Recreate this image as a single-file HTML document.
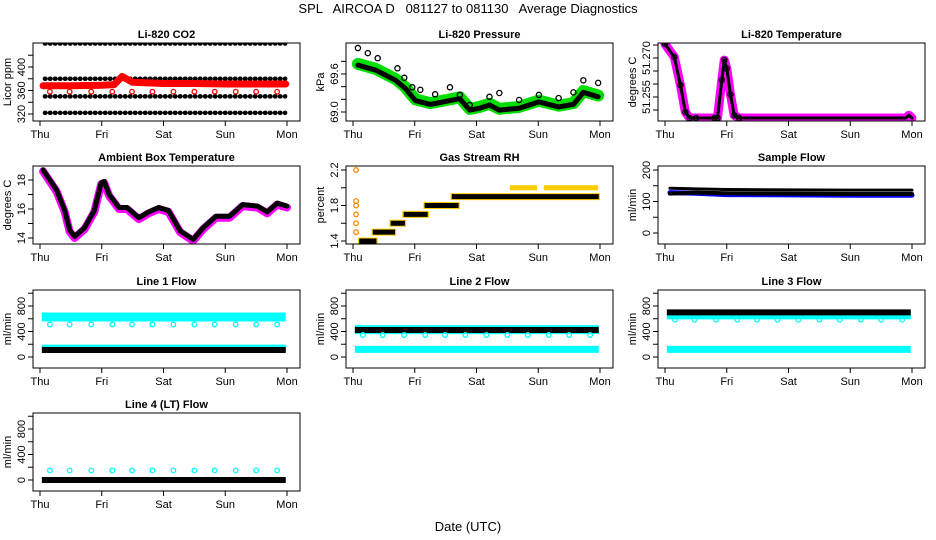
<!DOCTYPE html>
<html><head><meta charset="utf-8"><style>
html,body{margin:0;padding:0;background:#fff}
svg{display:block;font-family:"Liberation Sans",sans-serif}
</style></head><body>
<svg id="c" width="936" height="540" viewBox="0 0 936 540">
<text x="468" y="13" text-anchor="middle" font-size="13" xml:space="preserve">SPL   AIRCOA D   081127 to 081130   Average Diagnostics</text>
<text x="468" y="531" text-anchor="middle" font-size="13">Date (UTC)</text>
</svg>
<script>
// ---- data (time in days since Thu 00:00) ----
const dayLabels = ["Thu","Fri","Sat","Sun","Mon"];
const dipTimes = [0.16,0.48,0.83,1.17,1.49,1.82,2.16,2.5,2.83,3.17,3.5,3.84];
// CO2
const co2Rows = [440,380,350,322];
const co2RedT = [0.05,0.5,1.0,1.2,1.33,1.5,2.0,2.5,3.0,3.5,3.98];
const co2RedV = [368,368,369,370,384,374,372,372,371,371,371];
const co2DipV = 358;
// Pressure
const presUpT = [0.08,0.24,0.40,0.72,0.83,0.96,1.09,1.33,1.57,1.73,1.89,2.21,2.37,2.69,3.01,3.33,3.57,3.73,3.97];
const presUpV = [70.01,69.93,69.85,69.69,69.54,69.39,69.35,69.28,69.39,69.27,69.11,69.24,69.30,69.19,69.27,69.22,69.31,69.50,69.46];
const presBandT = [0.08,0.37,0.69,0.85,1.01,1.25,1.57,1.73,1.89,2.05,2.21,2.37,2.69,3.01,3.33,3.57,3.73,3.97];
const presBandV = [69.74,69.66,69.50,69.37,69.18,69.12,69.18,69.21,69.03,69.06,69.11,69.03,69.06,69.16,69.08,69.12,69.31,69.24];
// Li-820 temperature
const tempT = [0.0,0.15,0.25,0.33,0.4,0.5,0.8,0.85,0.92,0.96,1.0,1.06,1.12,1.2,3.9,3.95,4.0];
const tempV = [51.2754,51.2704,51.2596,51.2492,51.2469,51.2469,51.2469,51.2469,51.2615,51.2692,51.2660,51.2560,51.2480,51.2469,51.2469,51.2480,51.2469];
// Ambient box temperature
const ambT = [0.05,0.27,0.40,0.48,0.56,0.72,0.88,0.99,1.04,1.12,1.28,1.41,1.60,1.76,1.92,2.08,2.27,2.48,2.64,2.85,3.07,3.28,3.52,3.68,3.84,4.0];
const ambV = [18.7,17.3,15.9,14.55,14.1,14.7,15.9,17.8,17.9,17.0,16.1,16.1,15.4,15.8,16.1,15.9,14.5,13.9,14.7,15.5,15.5,16.3,16.2,15.8,16.4,16.2];
// Gas stream RH
const rhStepV = [1.4,1.5,1.6,1.7,1.8,1.9];
const rhStepT0 = [0.08,0.30,0.59,0.80,1.14,1.58];
const rhStepT1 = [0.40,0.70,0.86,1.23,1.73,4.0];
const rhEarlyV = [2.2,1.85,1.8,1.7,1.6,1.5];
const rhHighT0 = [2.54,3.09];
const rhHighT1 = [2.98,3.97];
const rhHighV = 2.0;
// Sample flow
const sfT = [0.08,0.5,1.0,2.0,3.0,4.0];
const sfBlue = [128,126,122,121,120,120];
const sfBlackHi = [142,140,138,137,136,136];
const sfBlackLo = [125,128,126,125,124,124];
// Line flows
const l1Cyan = 627, l1Dip = 510, l1Low = 140, l1Black = 110;
const l2Cyan = 430, l2Dip = 345, l2Low = 120, l2Black = 423;
const l3Cyan = 660, l3Dip = 585, l3Low = 120, l3Black = 700;
const l4Dip = 150, l4Black = 0;

// ---- layout ----
const svg = document.getElementById('c');
const NS = 'http://www.w3.org/2000/svg';
function mk(tag, attrs, parent){ const e=document.createElementNS(NS,tag); for(const k in attrs) e.setAttribute(k,attrs[k]); (parent||svg).appendChild(e); return e; }
const colX = [33,346,658], rowY = [43,166,290,413], W = 267, H = 78;

function panel(col,row,title,ylab,vLo,oLo,vHi,oHi,ticks,labels,labelText,name){
  const x0=colX[col], y0=rowY[row];
  const g = mk('g',{});
  
  
  const p = {g, x:t=>x0+7+t*(W-20)/4, y:v=>y0+oLo+(v-vLo)*(oHi-oLo)/(vHi-vLo)};
  const tt = mk('text',{x:x0+W/2,y:y0-5,'text-anchor':'middle','font-size':11,'font-weight':'bold'},g);
  tt.textContent = title;
  
  
  const clip = mk('clipPath',{id:'cl'+name},g);
  mk('rect',{x:x0,y:y0,width:W,height:H},clip);
  p.d = mk('g',{'clip-path':'url(#cl'+name+')'},g);
  const box = mk('rect',{x:x0,y:y0,width:W,height:H,fill:'none',stroke:'#000','stroke-width':1},g);
  
  
  dayLabels.forEach((d,i)=>{
    const xx=p.x(i);
    mk('line',{x1:xx,x2:xx,y1:y0+H,y2:y0+H+5,stroke:'#000'},g);
    const tl=mk('text',{x:xx,y:y0+H+17,'text-anchor':'middle','font-size':11},g);
    tl.textContent=d;
    
    
  });
  ticks.forEach(v=>{
    const yy=p.y(v);
    mk('line',{x1:x0-5,x2:x0,y1:yy,y2:yy,stroke:'#000'},g);
  });
  labels.forEach((v,i)=>{
    const yy=p.y(v);
    const tl=mk('text',{x:x0-8,y:yy,'text-anchor':'middle','font-size':11,transform:`rotate(-90 ${x0-8} ${yy})`},g);
    tl.textContent=labelText[i];
    
    
  });
  const yl=mk('text',{x:x0-22,y:y0+H/2,'text-anchor':'middle','font-size':11,transform:`rotate(-90 ${x0-22} ${y0+H/2})`},g);
  yl.textContent=ylab;
  
  
  return p;
}
function band(p,T,V,color,w,nm){
  const e=mk('polyline',{points:T.map((t,i)=>p.x(t)+','+p.y(V[i])).join(' '),fill:'none',stroke:color,'stroke-width':w,'stroke-linejoin':'round','stroke-linecap':'round'},p.d);
  
  
  return e;
}
function hband(p,t0,t1,v,color,w,nm,dash){
  const a={x1:p.x(t0),x2:p.x(t1),y1:p.y(v),y2:p.y(v),stroke:color,'stroke-width':w};
  if(dash){ a['stroke-dasharray']=dash; a['stroke-linecap']='round'; }
  const e=mk('line',a,p.d);
  
  
  return e;
}
function circ(p,t,v,color,nm,r){
  const e=mk('circle',{cx:p.x(t),cy:p.y(v),r:r||2.3,fill:'none',stroke:color,'stroke-width':1.3},p.d);
  
  
  return e;
}

// CO2
let p = panel(0,0,'Li-820 CO2','Licor ppm',320,71,400,24,[320,340,360,380,400,420],[320,360,400],['320','360','400'],'co2');
co2Rows.forEach(v=>hband(p,0.08,3.97,v,'#000',4.5,'co2-black-row','0.5 4.5'));
band(p,co2RedT,co2RedV,'#f00',7,'co2-red-series');
dipTimes.forEach(t=>circ(p,t,co2DipV,'#f00','co2-red-dip'));

// Pressure
p = panel(1,0,'Li-820 Pressure','kPa',69.0,69,69.6,31,[69.0,69.2,69.4,69.6,69.8],[69.0,69.6],['69.0','69.6'],'pressure');
band(p,presBandT,presBandV.map(v=>v+0.02),'#0d0',12,'pressure-green-band');
band(p,presBandT,presBandV,'#000',5,'pressure-black-band');
presUpT.forEach((t,i)=>circ(p,t,presUpV[i],'#000','pressure-upper-point',2.6));

// Li-820 temperature
p = panel(2,0,'Li-820 Temperature','degrees C',51.250,67,51.270,15,[51.250,51.255,51.260,51.265,51.270,51.275],[51.255,51.270],['51.255','51.270'],'temperature');
band(p,tempT,tempV,'#f0f',9,'temperature-magenta-band');
band(p,tempT,tempV,'#000',3,'temperature-black-series');
tempT.forEach((t,i)=>{ if(i<14) circ(p,t,tempV[i],'#000','temperature-point',2.6); });

// Ambient
p = panel(0,1,'Ambient Box Temperature','degrees C',14,72,18,14,[14,15,16,17,18],[14,16,18],['14','16','18'],'ambient');
band(p,ambT,ambV.map(v=>v-0.1),'#f0f',8,'ambient-magenta-band');
band(p,ambT,ambV,'#000',5,'ambient-black-series');

// RH
p = panel(1,1,'Gas Stream RH','percent',1.4,75,2.2,4,[1.4,1.6,1.8,2.0,2.2],[1.4,1.8,2.2],['1.4','1.8','2.2'],'rh');
rhHighT0.forEach((t,i)=>hband(p,t,rhHighT1[i],rhHighV,'#fc0',5,'rh-yellow-band'));
rhStepV.forEach((v,i)=>{ hband(p,rhStepT0[i],rhStepT1[i],v,'#fc0',7,'rh-yellow-step'); hband(p,rhStepT0[i]+0.02,rhStepT1[i]-0.02,v,'#000',5,'rh-black-step'); });
rhEarlyV.forEach(v=>circ(p,0.05,v,'#f80','rh-early-point'));

// Sample flow
p = panel(2,1,'Sample Flow','ml/min',0,67,200,4,[0,50,100,150,200],[0,100,200],['0','100','200'],'sample-flow');
band(p,sfT,sfBlue,'#00f',5,'sample-flow-blue');
band(p,sfT,sfBlackLo,'#000',4,'sample-flow-black-low');
band(p,sfT,sfBlackHi,'#000',3,'sample-flow-black-high');

// Lines
function linePanel(col,row,title,name,cy,dip,low,blk){
  const q = panel(col,row,title,'ml/min',0,67,800,16,[0,200,400,600,800,1000],[0,400,800],['0','400','800'],name);
  if(cy!==null) hband(q,0.03,3.98,cy,'#0ff',9,name+'-cyan-band');
  if(low!==null) hband(q,0.03,3.98,low,'#0ff',7,name+'-cyan-low');
  hband(q,0.03,3.98,blk,'#000',6,name+'-black-band');
  dipTimes.forEach(t=>circ(q,t,dip,'#0ff',name+'-cyan-dip'));
}
linePanel(0,2,'Line 1 Flow','line1',l1Cyan,l1Dip,l1Low,l1Black);
linePanel(1,2,'Line 2 Flow','line2',l2Cyan,l2Dip,l2Low,l2Black);
linePanel(2,2,'Line 3 Flow','line3',l3Cyan,l3Dip,l3Low,l3Black);
linePanel(0,3,'Line 4 (LT) Flow','line4',null,l4Dip,null,l4Black);
</script>
</body></html>
